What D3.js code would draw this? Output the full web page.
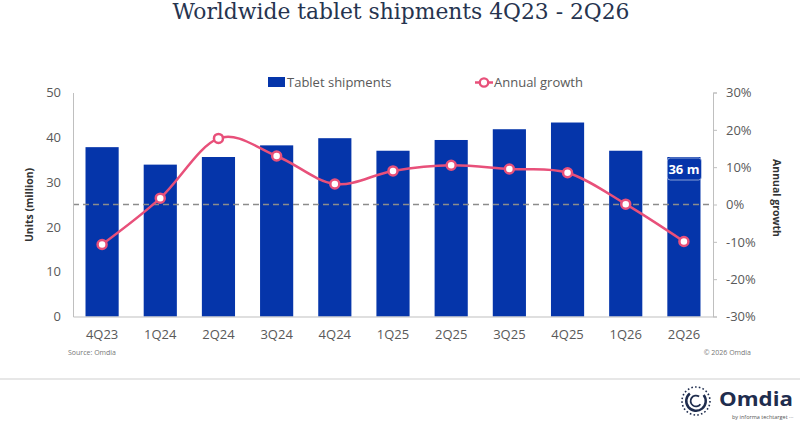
<!DOCTYPE html>
<html><head><meta charset="utf-8">
<script src="https://cdn.jsdelivr.net/npm/d3@7"></script>
<style>html,body{margin:0;padding:0;background:#fff;}svg{display:block;}</style>
</head><body>
<svg id="c" width="800" height="424"></svg>
<script>
const categories = ["4Q23","1Q24","2Q24","3Q24","4Q24","1Q25","2Q25","3Q25","4Q25","1Q26","2Q26"];
const shipments = [37.8, 33.9, 35.6, 38.2, 39.8, 37.0, 39.4, 41.8, 43.3, 37.0, 35.6];
const growth = [-10.7, 1.7, 17.7, 13.0, 5.5, 9.0, 10.5, 9.5, 8.5, 0.1, -9.9];
const leftTicks = [0,10,20,30,40,50];
const rightTicks = [-30,-20,-10,0,10,20,30];
const title = "Worldwide tablet shipments 4Q23 - 2Q26";
const lastLabel = "36 m";

const BAR = "#0535AA", LINE = "#E8507A", TXT = "#595959", NAVY = "#1C2A45";
const svg = d3.select("#c");
const L = 73, R = 713, T = 92.5, B = 316.5;

const x = d3.scaleBand().domain(categories).range([L, R]).paddingInner(0.43).paddingOuter(0.215);
const yL = d3.scaleLinear().domain([0,50]).range([B, T]);
const yR = d3.scaleLinear().domain([-30,30]).range([B, T]);

// title
svg.append("text").attr("x", 401).attr("y", 19).attr("text-anchor","middle")
  .attr("font-family","DejaVu Serif").attr("font-stretch","condensed").attr("font-size",22).attr("fill","#26344f")
  .attr("textLength",457).attr("lengthAdjust","spacingAndGlyphs").text(title);

// bars
svg.append("g").selectAll("rect").data(categories).join("rect")
  .attr("x", d => x(d)).attr("width", x.bandwidth())
  .attr("y", (d,i) => yL(shipments[i])).attr("height", (d,i) => yL(0) - yL(shipments[i]))
  .attr("fill", BAR);

// zero growth dashed line
svg.append("line").attr("x1", L).attr("x2", R).attr("y1", yR(0)).attr("y2", yR(0))
  .attr("stroke","#8c8c8c").attr("stroke-width",1.3).attr("stroke-dasharray","6,4");

// axes
const axL = d3.axisLeft(yL).tickValues(leftTicks).tickSize(0).tickPadding(12);
const gL = svg.append("g").attr("transform",`translate(${L},0)`).call(axL);
gL.select(".domain").attr("stroke","#bfbfbf");
gL.selectAll("text").attr("font-family","Open Sans").attr("font-size",13).attr("fill",TXT);

const axR = d3.axisRight(yR).tickValues(rightTicks).tickSize(4).tickPadding(9).tickFormat(d => d + "%");
const gR = svg.append("g").attr("transform",`translate(${R},0)`).call(axR);
gR.select(".domain").attr("stroke","#bfbfbf");
gR.selectAll("line").attr("stroke","#bfbfbf");
gR.selectAll("text").attr("font-family","Open Sans").attr("font-size",13).attr("fill",TXT);

const axB = d3.axisBottom(x).tickSize(0).tickPadding(13);
const gB = svg.append("g").attr("transform",`translate(0,${B})`).call(axB);
gB.select(".domain").attr("stroke","#bfbfbf");
gB.selectAll("text").attr("font-family","Open Sans").attr("font-size",13).attr("fill",TXT);

// axis titles
svg.append("text").attr("transform",`translate(33,205) rotate(-90)`).attr("text-anchor","middle")
  .attr("font-family","Open Sans").attr("font-weight","bold").attr("font-size",10.5).attr("fill","#333")
  .text("Units (million)");
svg.append("text").attr("transform",`translate(773,198) rotate(90)`).attr("text-anchor","middle")
  .attr("font-family","Open Sans").attr("font-weight","bold").attr("font-size",10.5).attr("fill","#333")
  .text("Annual growth");

// growth line
const cx = d => x(d) + x.bandwidth()/2;
const line = d3.line().x((d,i) => cx(categories[i])).y(d => yR(d)).curve(d3.curveCatmullRom.alpha(0));
svg.append("path").datum(growth).attr("d", line).attr("fill","none")
  .attr("stroke",LINE).attr("stroke-width",2.5);
svg.append("g").selectAll("circle").data(growth).join("circle")
  .attr("cx",(d,i) => cx(categories[i])).attr("cy", d => yR(d)).attr("r",4.5)
  .attr("fill","#fff").attr("stroke",LINE).attr("stroke-width",2.5);

// last-bar label
const lc = categories[categories.length-1];
const ly = yL(shipments[shipments.length-1]);
svg.append("rect").attr("x", x(lc)).attr("y", ly+1).attr("width", x.bandwidth()+1).attr("height",22)
  .attr("rx",3).attr("fill",BAR).attr("stroke","#dfe6f5").attr("stroke-width",0.6);
svg.append("text").attr("x", cx(lc)).attr("y", ly+17).attr("text-anchor","middle")
  .attr("font-family","Open Sans").attr("font-weight","bold").attr("font-size",13).attr("fill","#fff")
  .text(lastLabel);

// legend
svg.append("rect").attr("x",268).attr("y",77).attr("width",17).attr("height",10).attr("fill",BAR);
svg.append("text").attr("x",287).attr("y",87).attr("font-family","Open Sans").attr("font-size",13).attr("fill",TXT).text("Tablet shipments");
svg.append("line").attr("x1",475).attr("x2",493).attr("y1",82.5).attr("y2",82.5).attr("stroke",LINE).attr("stroke-width",2.5);
svg.append("circle").attr("cx",484).attr("cy",82.5).attr("r",4.2).attr("fill","#fff").attr("stroke",LINE).attr("stroke-width",2.3);
svg.append("text").attr("x",494).attr("y",87).attr("font-family","Open Sans").attr("font-size",13).attr("fill",TXT).text("Annual growth");

// footer
svg.append("text").attr("x",68).attr("y",355).attr("font-family","Open Sans").attr("font-size",7).attr("fill","#777").text("Source: Omdia");
svg.append("text").attr("x",751).attr("y",355).attr("text-anchor","end").attr("font-family","Open Sans").attr("font-size",7).attr("fill","#777").text("© 2026 Omdia");
svg.append("line").attr("x1",0).attr("x2",800).attr("y1",379).attr("y2",379).attr("stroke","#cfcfcf").attr("stroke-width",1);

// logo
const lg = svg.append("g").attr("transform","translate(696,401)");
lg.append("circle").attr("r",14).attr("fill","none").attr("stroke","#1F2D4E").attr("stroke-width",1.6).attr("stroke-dasharray","1.6,2.2");
lg.append("path").attr("d", d3.arc()({innerRadius:8.5, outerRadius:11, startAngle:0.9, endAngle:5.6})).attr("fill","#1F2D4E");
lg.append("path").attr("d", d3.arc()({innerRadius:4.5, outerRadius:6.3, startAngle:2.2, endAngle:6.9})).attr("fill","#1F2D4E");
svg.append("text").attr("x",719).attr("y",406).attr("font-family","Open Sans").attr("font-weight","bold").attr("font-size",20).attr("fill","#1F2D4E")
  .attr("textLength",74).attr("lengthAdjust","spacingAndGlyphs").text("Omdia");
svg.append("text").attr("x",732).attr("y",419).attr("font-family","Open Sans").attr("font-size",5.5).attr("fill","#555").text("by informa techtarget ···");
</script>
</body></html>
